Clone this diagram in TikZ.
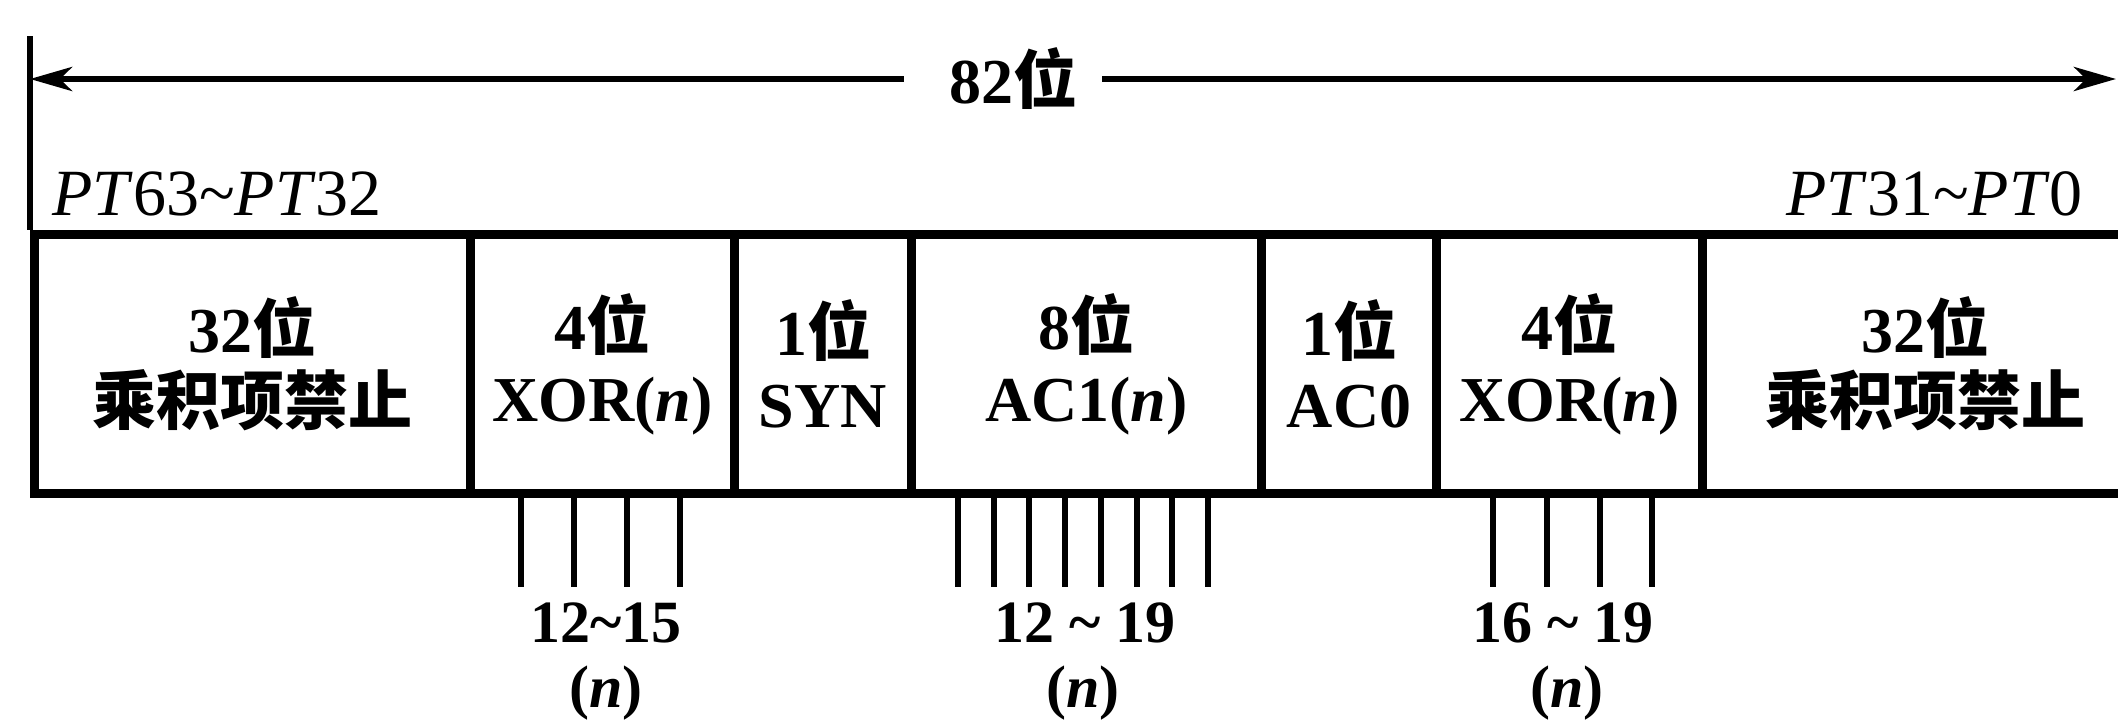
\documentclass[tikz,border=0pt]{standalone}
\usepackage{fontspec}
\setmainfont{Liberation Serif}
\newfontfamily\cjkf{Noto Sans CJK SC}
\newcommand\zh[1]{{\cjkf #1}}
\newcommand\tl{\char"007E\relax}
\usetikzlibrary{arrows.meta}
\begin{document}
\begin{tikzpicture}[x=1pt,y=-1pt,
  field/.style={draw,line width=9pt,minimum height=259pt,inner sep=0pt,
    anchor=north west,align=center,font=\fontsize{64}{72}\selectfont\bfseries},
  dimline/.style={line width=6pt,-{Stealth[length=42pt,width=24pt,inset=12pt]}},
  ext/.style={line width=6pt},
  tick/.style={line width=6pt},
  toplabel/.style={inner sep=0pt,font=\fontsize{66}{70}\selectfont},
  botlabel/.style={inner sep=0pt,anchor=base,font=\fontsize{60}{64}\selectfont\bfseries}]
\useasboundingbox (0,0) rectangle (2118,723);
\clip (0,0) rectangle (2118,723);
% dimension line
\node[toplabel,font=\fontsize{64}{70}\selectfont\bfseries] (tot) at (1013,79) {82\zh{位}};
\coordinate (L) at (30,79);
\coordinate (R) at (2116,79);
\coordinate (Ltop) at (30,36);
\draw[dimline] ([xshift=-45pt]tot.west) -- (L);
\draw[dimline] ([xshift=25pt]tot.east) -- (R);
% range labels
\node[toplabel,anchor=base west] (ptl) at (52,215) {\textit{PT}63\tl\textit{PT}32};
\node[toplabel,anchor=base east] (ptr) at (2083,215) {\textit{PT}31\tl\textit{PT}0};
% fields
\node[field,minimum width=436pt] (f1) at (30,230) {32\zh{位}\\\zh{乘积项禁止}};
\node[field,minimum width=264pt] (f2) at (466,230) {4\zh{位}\\XOR(\textit{n})};
\node[field,minimum width=177pt] (f3) at (730,230) {1\zh{位}\\SYN};
\node[field,minimum width=350pt] (f4) at (907,230) {8\zh{位}\\AC1(\textit{n})};
\node[field,minimum width=175pt] (f5) at (1257,230) {1\zh{位}\\AC0};
\node[field,minimum width=266pt] (f6) at (1432,230) {4\zh{位}\\XOR(\textit{n})};
\node[field,minimum width=446pt] (f7) at (1698,230) {32\zh{位}\\\zh{乘积项禁止}};
\draw[ext] (Ltop) -- (f1.north west);
% ticks
\foreach \x in {521,574,627,680}{\draw[tick] (\x,489) -- (\x,587);}
\foreach \x in {958,994,1029,1065,1101,1137,1172,1208}{\draw[tick] (\x,489) -- (\x,587);}
\foreach \x in {1493,1547,1600,1652}{\draw[tick] (\x,489) -- (\x,587);}
% tick labels
\node[botlabel] (a1) at (606,642) {12\tl15};
\node[botlabel] (a2) at (606,707) {(\textit{n})};
\node[botlabel] (b1) at (1085,642) {12 \tl{} 19};
\node[botlabel] (b2) at (1083,707) {(\textit{n})};
\node[botlabel] (c1) at (1563,642) {16 \tl{} 19};
\node[botlabel] (c2) at (1567,707) {(\textit{n})};
\end{tikzpicture}
\end{document}
